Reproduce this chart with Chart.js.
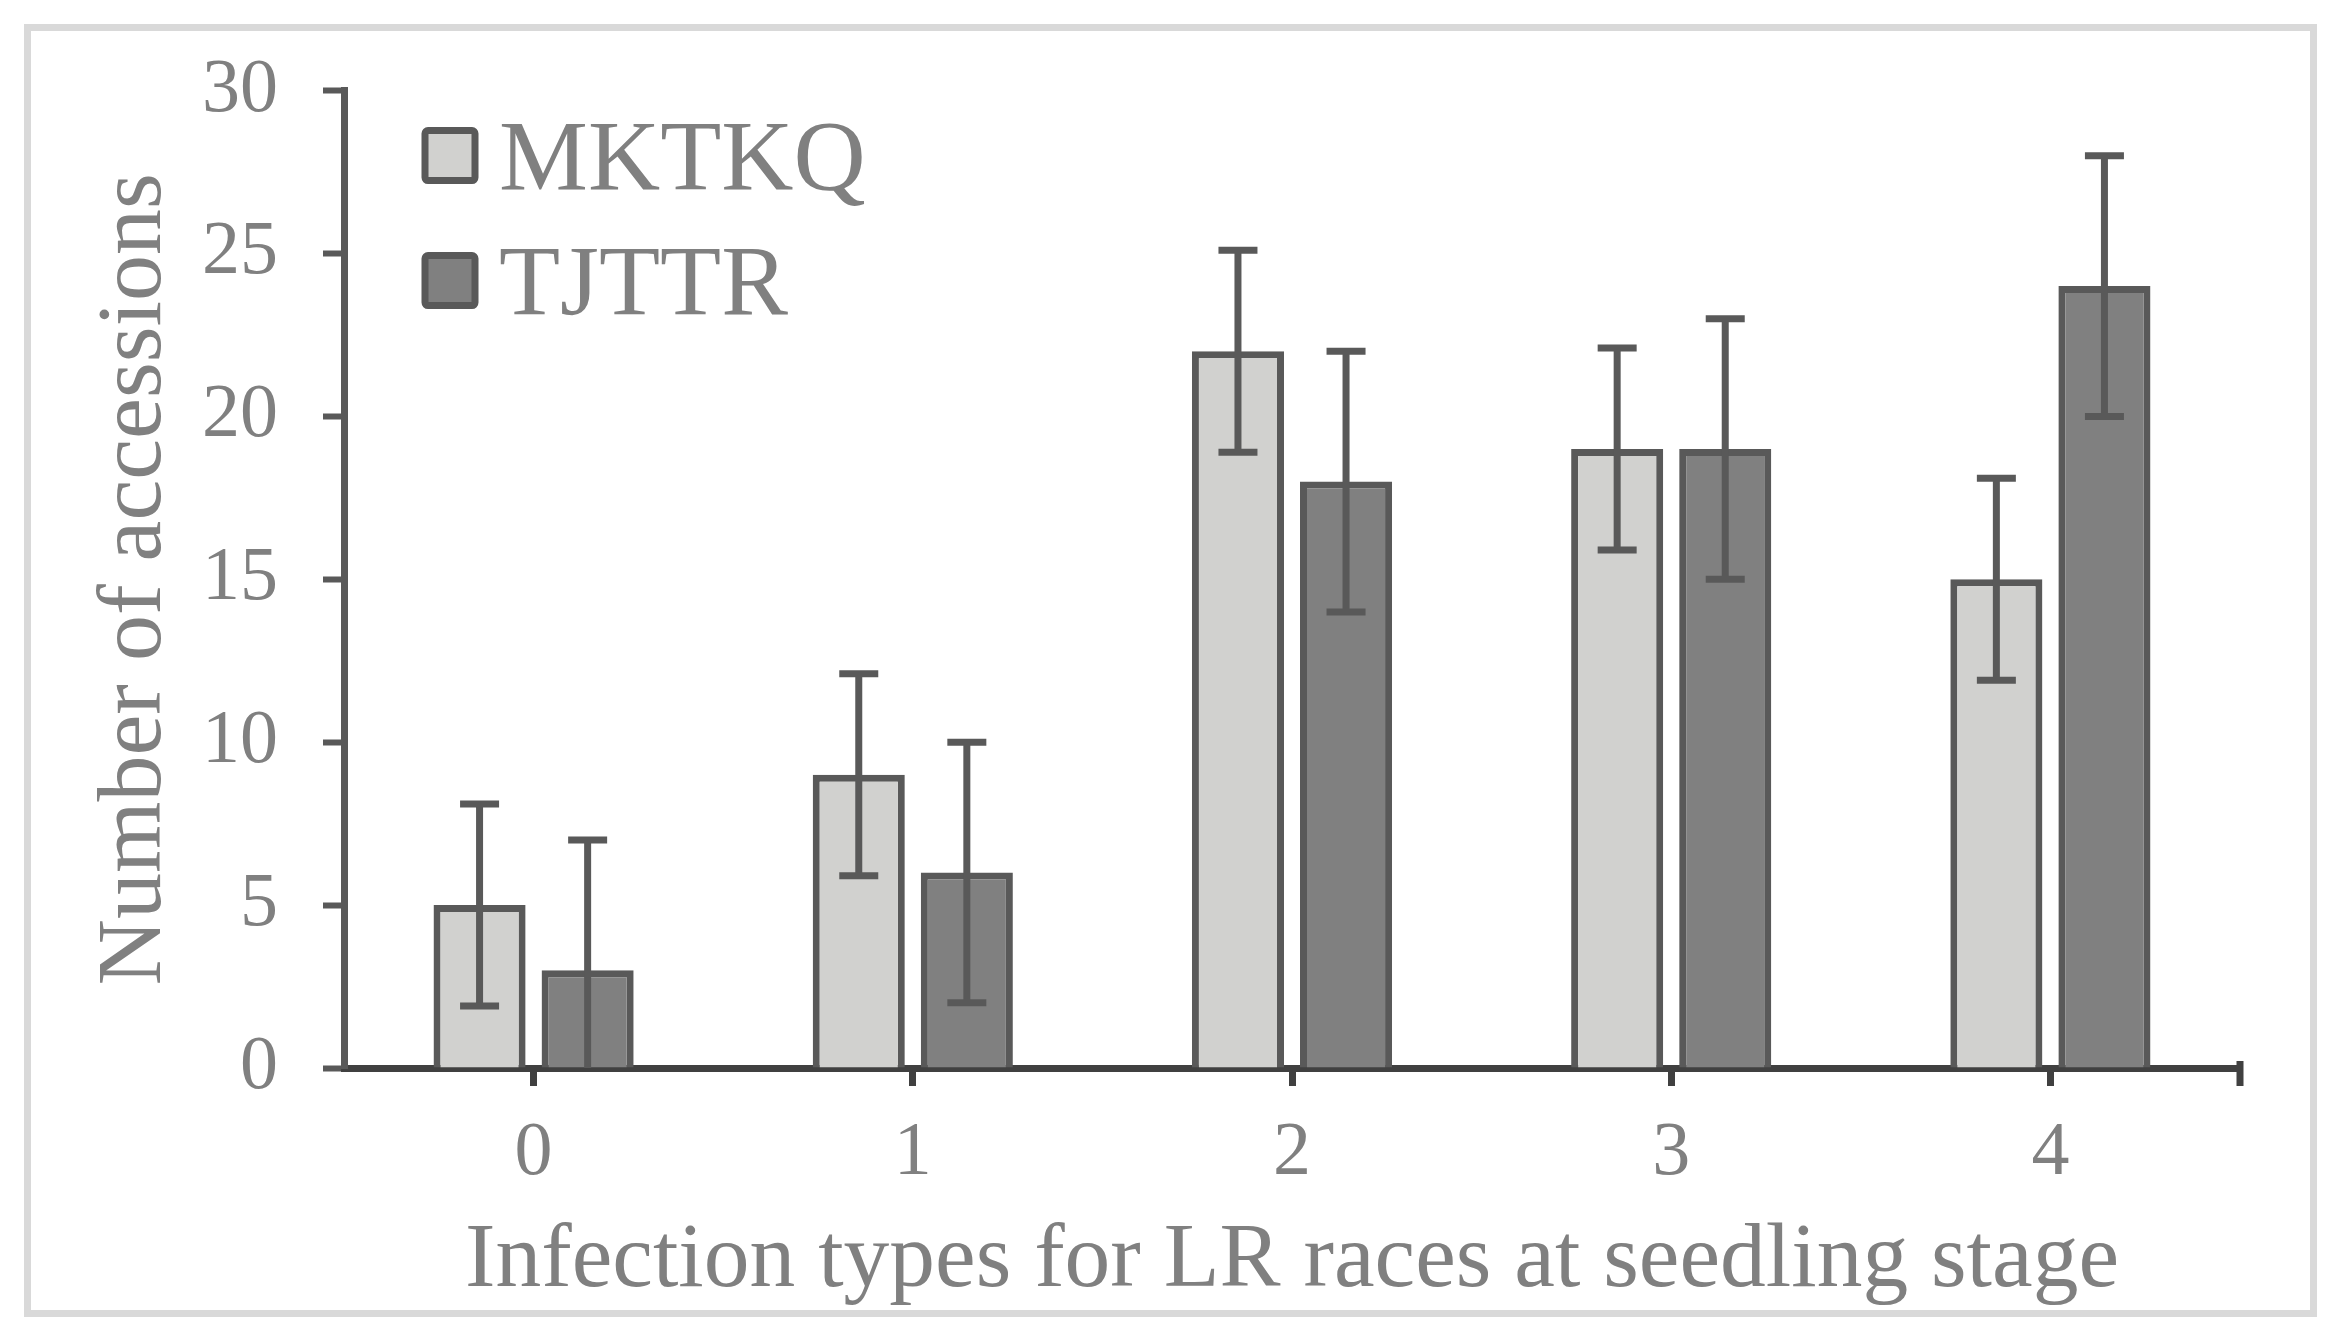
<!DOCTYPE html>
<html>
<head>
<meta charset="utf-8">
<script src="https://cdn.jsdelivr.net/npm/chart.js@4.4.1/dist/chart.umd.min.js"></script>
<style>
html, body { margin: 0; padding: 0; background: #fff; }
#contenedor { width: 2340px; height: 1344px; }
</style>
</head>
<body>
<div id="contenedor"><canvas id="grafico" width="2340" height="1344"></canvas></div>
<script>
// datos
const categorias = ['0', '1', '2', '3', '4'];
const nombresSeries = ['MKTKQ', 'TJTTR'];
const valoresMKTKQ = [5, 9, 22, 19, 15];
const valoresTJTTR = [3, 6, 18, 19, 24];
const errorMKTKQ = [3.1, 3.1, 3.1, 3.1, 3.1];
const errorTJTTR = [4, 4, 4, 4, 4];
const ticksY = [0, 5, 10, 15, 20, 25, 30];

const fuente = 'Liberation Serif, Times New Roman, serif';
const gris = '#808080';
const borde = '#595959';
const ejeX = '#404040';

// fondo blanco y marco gris claro
const marco = {
	id: 'marco',
	beforeDraw(chart) {
		const ctx = chart.ctx;
		ctx.save();
		ctx.fillStyle = '#fff';
		ctx.fillRect(0, 0, chart.width, chart.height);
		ctx.strokeStyle = '#d9d9d9';
		ctx.lineWidth = 7;
		ctx.strokeRect(27.5, 27.5, 2286, 1286);
		ctx.restore();
	}
};

// barras de error (se dibujan con la escala y)
const barrasError = {
	id: 'barrasError',
	afterDatasetsDraw(chart) {
		const ctx = chart.ctx;
		const y = chart.scales.y;
		const errores = [errorMKTKQ, errorTJTTR];
		ctx.save();
		ctx.strokeStyle = borde;
		ctx.lineWidth = 7;
		chart.data.datasets.forEach((ds, d) => {
			const meta = chart.getDatasetMeta(d);
			meta.data.forEach((barra, i) => {
				const v = ds.data[i];
				const e = errores[d][i];
				const arriba = y.getPixelForValue(v + e);
				const abajo = y.getPixelForValue(Math.max(v - e, 0));
				ctx.beginPath();
				ctx.moveTo(barra.x, arriba);
				ctx.lineTo(barra.x, abajo);
				ctx.moveTo(barra.x - 19.5, arriba);
				ctx.lineTo(barra.x + 19.5, arriba);
				if (v - e > 0) {
					ctx.moveTo(barra.x - 19.5, abajo);
					ctx.lineTo(barra.x + 19.5, abajo);
				}
				ctx.stroke();
			});
		});
		ctx.restore();
	}
};

// leyenda dentro del area del grafico + marca final del eje x
const leyenda = {
	id: 'leyenda',
	afterDraw(chart) {
		const ctx = chart.ctx;
		const area = chart.chartArea;
		ctx.save();
		chart.data.datasets.forEach((ds, d) => {
			const cx = area.left + 81;
			const cy = area.top + 65 + d * 125;
			ctx.fillStyle = ds.backgroundColor;
			ctx.strokeStyle = borde;
			ctx.lineWidth = 7;
			ctx.beginPath();
			ctx.roundRect(cx, cy - 25, 50, 50, 3);
			ctx.fill();
			ctx.stroke();
			ctx.fillStyle = gris;
			ctx.font = '100px ' + fuente;
			ctx.textBaseline = 'alphabetic';
			ctx.textAlign = 'left';
			ctx.fillText(ds.label, cx + 74, cy + 33);
		});
		// marca al final del eje x
		ctx.strokeStyle = ejeX;
		ctx.lineWidth = 7;
		ctx.beginPath();
		ctx.moveTo(area.right - 3.5, area.bottom - 3.5);
		ctx.lineTo(area.right + 3.5, area.bottom - 3.5);
		ctx.moveTo(area.right, area.bottom);
		ctx.lineTo(area.right, area.bottom + 18);
		ctx.stroke();
		ctx.restore();
	}
};

const ctx = document.getElementById('grafico').getContext('2d');
const miGrafico = new Chart(ctx, {
	type: 'bar',
	data: {
		labels: categorias,
		datasets: [{
			label: nombresSeries[0],
			data: valoresMKTKQ,
			backgroundColor: '#d1d1cf',
			borderColor: borde,
			borderWidth: 7,
			barPercentage: 0.852,
			categoryPercentage: 0.57
		}, {
			label: nombresSeries[1],
			data: valoresTJTTR,
			backgroundColor: '#808080',
			borderColor: borde,
			borderWidth: 7,
			barPercentage: 0.852,
			categoryPercentage: 0.57
		}]
	},
	options: {
		responsive: false,
		devicePixelRatio: 1,
		animation: false,
		layout: { padding: { left: 0, top: 90, right: 100, bottom: 0 } },
		plugins: {
			legend: { display: false },
			tooltip: { enabled: false }
		},
		scales: {
			x: {
				z: 1,
				offset: true,
				grid: { offset: false, drawOnChartArea: false, tickLength: 18, tickWidth: 7, tickColor: ejeX },
				border: { color: ejeX, width: 7 },
				ticks: { color: gris, font: { family: fuente, size: 76 }, padding: 22 },
				title: {
					display: true,
					text: 'Infection types for LR races at seedling stage',
					color: gris,
					font: { family: fuente, size: 91.5 },
					padding: { top: 0, bottom: 27 }
				},
				afterFit: function (escala) { escala.height = 276; }
			},
			y: {
				min: 0,
				max: 30,
				afterBuildTicks: function (escala) { escala.ticks = ticksY.map(v => ({ value: v })); },
				grid: { drawOnChartArea: false, tickLength: 21, tickWidth: 6, tickColor: borde },
				border: { color: borde, width: 7 },
				ticks: { color: gris, font: { family: fuente, size: 76 }, padding: 45 },
				title: {
					display: true,
					text: 'Number of accessions',
					color: gris,
					font: { family: fuente, size: 92 },
					padding: { top: 81, bottom: 0 }
				},
				afterFit: function (escala) { escala.width = 344; }
			}
		}
	},
	plugins: [marco, barrasError, leyenda]
});
</script>
</body>
</html>
